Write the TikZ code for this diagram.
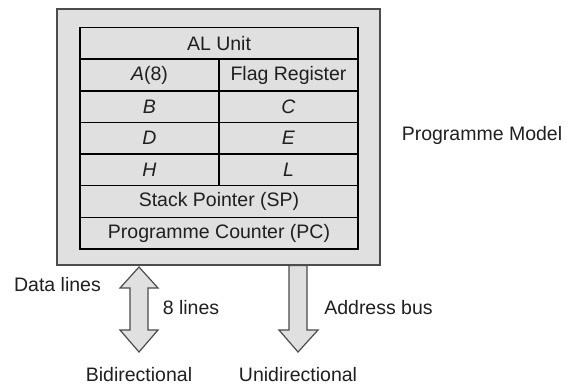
\documentclass[tikz,border=0pt]{standalone}
\usepackage{fontspec}
\setmainfont{Liberation Sans}
\begin{document}
\begin{tikzpicture}[x=1pt,y=-1pt,
  txt/.style={font=\fontsize{19.5}{22}\selectfont, text=black!88, inner sep=0pt},
  cell/.style={txt, draw=black, line width=1.4pt, fill=black!12, minimum height=31.6pt},
  wide/.style={cell, minimum width=278pt},
  half/.style={cell, minimum width=139pt},
  blk/.style={draw=black!70, line width=1.2pt, fill=black!12, line join=miter}]
\useasboundingbox (0,0) rectangle (569,384);
% outer box
\node[draw=black!70, line width=1.6pt, fill=black!12, minimum width=323pt, minimum height=256pt, inner sep=0pt] (outer) at (218.5,137) {};
% table
\node[wide] (alu) at (219,43.2) {AL Unit};
\node[half] (a) at (149.5,75) {\textit{A}(8)};
\node[half] (flag) at (288.5,75) {Flag Register};
\node[half] (b) at (149.5,106.6) {\textit{B}};
\node[half] (c) at (288.5,106.6) {\textit{C}};
\node[half] (d) at (149.5,138.2) {\textit{D}};
\node[half] (e) at (288.5,138.2) {\textit{E}};
\node[half] (h) at (149.5,169.8) {\textit{H}};
\node[half] (l) at (288.5,169.8) {\textit{L}};
\node[wide] (sp) at (219,201.4) {Stack Pointer (SP)};
\node[wide] (pc) at (219,233) {Programme Counter (PC)};
% labels
\node[txt] (model) at (482,135) {Programme Model};
\node[txt] (data) at (57.5,285) {Data lines};
\node[txt] (eight) at (191,308) {8 lines};
\node[txt] (addr) at (378.5,308) {Address bus};
\node[txt, anchor=base, text depth=0pt] (bi) at (139,381) {Bidirectional};
\node[txt, anchor=base, text depth=0pt] (uni) at (298,381) {Unidirectional};
% arrows
\coordinate (dtop) at (139,267);
\coordinate (dbot) at (139,352);
\coordinate (atop) at (298,265.5);
\coordinate (abot) at (298,352);
\draw[blk] (dtop) -- ++(19,21) -- ++(-10,0) -- ++(0,42) -- ++(10,0) -- (dbot)
  -- ++(-19,-22) -- ++(10,0) -- ++(0,-42) -- ++(-10,0) -- cycle;
\draw[blk] ([xshift=-9pt]atop) -- ([xshift=9pt]atop) -- ++(0,64.5) -- ++(11,0) -- (abot)
  -- ++(-19,-22) -- ++(10,0) -- cycle;
\end{tikzpicture}
\end{document}
